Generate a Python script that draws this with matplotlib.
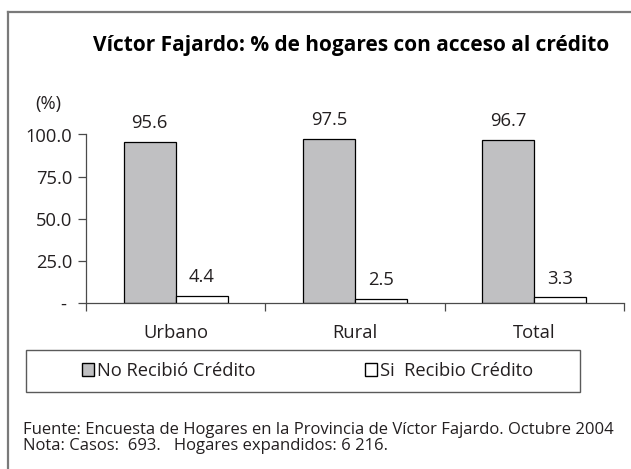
#!/usr/bin/env python3
# credito_fajardo.py – % de hogares con acceso al crédito (Víctor Fajardo)
# -------------------------------------------------------------------
import matplotlib as mpl

mpl.use("Agg")
mpl.rcParams["font.family"] = ["Open Sans", "DejaVu Sans"]

import matplotlib.pyplot as plt
from matplotlib.lines import Line2D
from matplotlib.patches import Patch, Rectangle
from matplotlib.ticker import FuncFormatter

# ─── data ────────────────────────────────────────────────────────────
categorias = ["Urbano", "Rural", "Total"]
no_recibio = [95.6, 97.5, 96.7]
si_recibio = [4.4, 2.5, 3.3]
series_labels = ["No Recibió Crédito", "Si  Recibio Crédito"]
y_ticks = [0, 25, 50, 75, 100]

TITLE = "Víctor Fajardo: % de hogares con acceso al crédito"
FUENTE = "Fuente: Encuesta de Hogares en la Provincia de Víctor Fajardo. Octubre 2004"
NOTA = "Nota: Casos:  693.   Hogares expandidos: 6 216."

# ─── style ───────────────────────────────────────────────────────────
GRAY = "#c0c0c2"
TXT = "#231f20"
AXC = "#4a4a4a"
FS = 13.2
W, H = 631, 469

fig = plt.figure(figsize=(W / 100, H / 100), dpi=100)
fig.patch.set_facecolor("white")

ax = fig.add_axes([86 / W, (H - 303) / H, 538 / W, 168.5 / H])

x = list(range(len(categorias)))
bw = 0.29
b1 = ax.bar([i - bw / 2 for i in x], no_recibio, bw, color=GRAY,
            edgecolor="black", linewidth=0.9)
b2 = ax.bar([i + bw / 2 for i in x], si_recibio, bw, color="white",
            edgecolor="black", linewidth=0.9)

for bars, vals in ((b1, no_recibio), (b2, si_recibio)):
    ax.bar_label(bars, labels=[f"{v:.1f}" for v in vals], padding=7,
                 fontsize=FS, color=TXT)

ax.set_xlim(-0.5, len(categorias) - 0.5)
ax.set_ylim(0, 100)
ax.set_yticks(y_ticks)
ax.yaxis.set_major_formatter(
    FuncFormatter(lambda v, _: "- " if v == 0 else f"{v:.1f}"))

# category boundaries as ticks, labels on minor ticks
ax.set_xticks([i - 0.5 for i in range(len(categorias) + 1)])
ax.set_xticklabels([])
ax.set_xticks(x, categorias, minor=True)
ax.tick_params(axis="x", which="major", direction="out", length=6,
               color=AXC, width=0.9)
ax.tick_params(axis="x", which="minor", length=0, pad=15, labelsize=FS,
               labelcolor=TXT)
ax.tick_params(axis="y", direction="out", length=6, color=AXC, width=0.9,
               pad=4, labelsize=FS, labelcolor=TXT)

for s in ("top", "right"):
    ax.spines[s].set_visible(False)
for s in ("left", "bottom"):
    ax.spines[s].set_color(AXC)
    ax.spines[s].set_linewidth(0.9)

# ─── texts ───────────────────────────────────────────────────────────
fig.text(351 / W, 1 - 45 / H, TITLE, ha="center", va="center",
         fontsize=15, fontweight="bold", color="black")
fig.text(48 / W, 1 - 104 / H, "(%)", ha="center", va="center",
         fontsize=FS, color=TXT)
fig.text(23 / W, 1 - 430 / H, FUENTE, ha="left", va="center",
         fontsize=12, color=TXT)
fig.text(23 / W, 1 - 446 / H, NOTA, ha="left", va="center",
         fontsize=12, color=TXT)

# ─── legend ──────────────────────────────────────────────────────────
fig.add_artist(Rectangle((26 / W, (H - 392) / H), 554 / W, 42 / H,
                         transform=fig.transFigure, fill=False,
                         edgecolor="#5a5a5a", linewidth=1.0))
handles = [Patch(facecolor=GRAY, edgecolor="black", linewidth=1.0),
           Patch(facecolor="white", edgecolor="black", linewidth=1.0)]
fig.legend(handles, series_labels, loc="center left",
           bbox_to_anchor=(82 / W, (H - 371) / H), ncol=2, frameon=False,
           fontsize=FS, labelcolor=TXT, handlelength=0.65, handleheight=0.65,
           handletextpad=0.15, columnspacing=6.0, borderpad=0,
           borderaxespad=0)

# ─── outer frame (left + top only, rest cropped) ─────────────────────
fc = "#7a7a7a"
fig.add_artist(Line2D([8 / W, 8 / W], [0, 1 - 12 / H], transform=fig.transFigure,
                      color=fc, linewidth=1.6))
fig.add_artist(Line2D([8 / W, 1], [1 - 12 / H, 1 - 12 / H],
                      transform=fig.transFigure, color=fc, linewidth=1.6))

fig.savefig("out.png", dpi=100, facecolor="white")
